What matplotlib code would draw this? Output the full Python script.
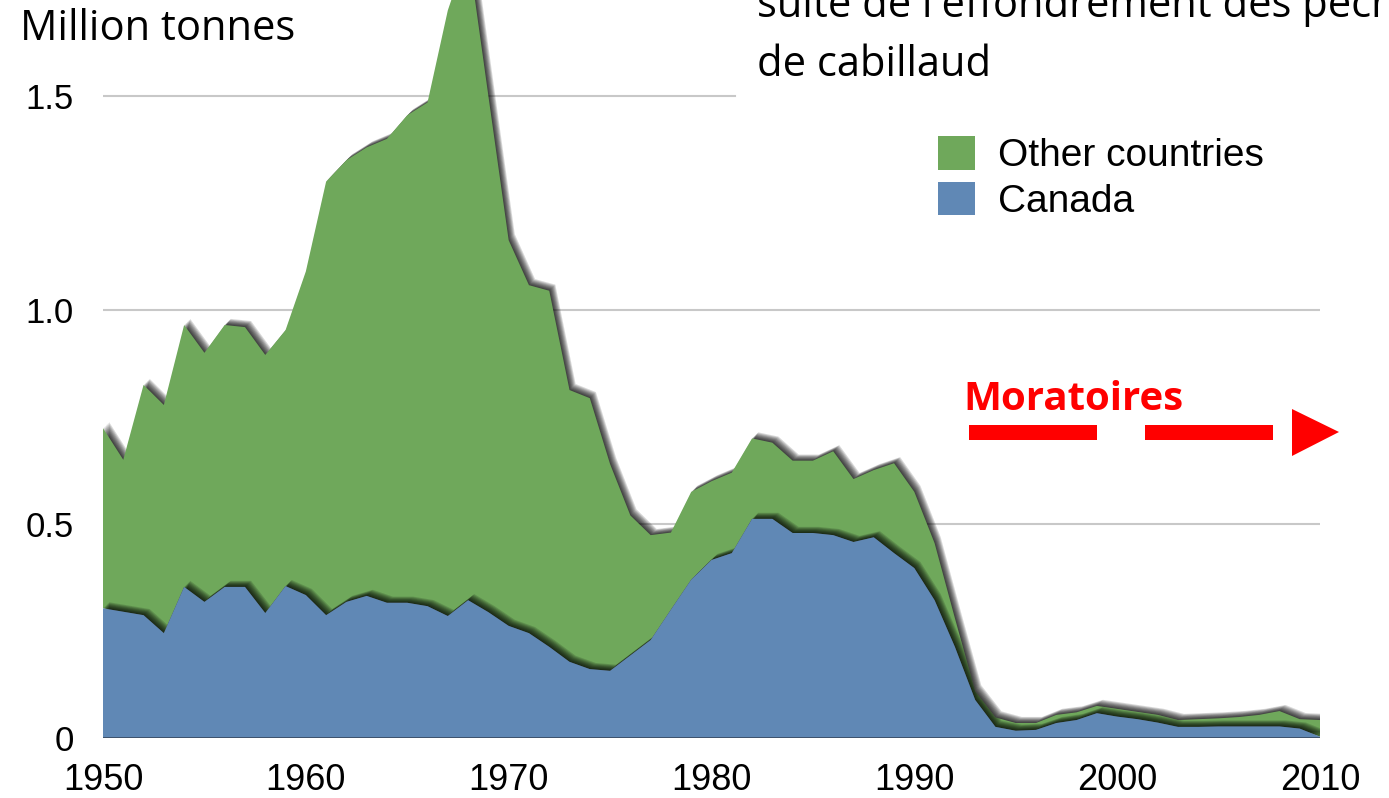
import matplotlib
matplotlib.use("Agg")
import matplotlib.pyplot as plt
import matplotlib.patheffects as pe
from matplotlib.patches import Patch, Rectangle, Polygon

# Northwest Atlantic cod catch, million tonnes
years = list(range(1950, 2011))
canada = [
    0.303, 0.295, 0.287, 0.245, 0.353, 0.318, 0.353, 0.353, 0.292, 0.355,
    0.334, 0.287, 0.318, 0.332, 0.316, 0.316, 0.308, 0.285, 0.322, 0.294,
    0.262, 0.245, 0.213, 0.178, 0.161, 0.157, 0.193, 0.229, 0.300, 0.370,
    0.416, 0.432, 0.512, 0.512, 0.479, 0.479, 0.474, 0.458, 0.469, 0.432,
    0.397, 0.322, 0.213, 0.089, 0.026, 0.017, 0.019, 0.035, 0.042, 0.058,
    0.050, 0.044, 0.036, 0.026, 0.026, 0.027, 0.027, 0.027, 0.027, 0.022,
    0.003,
]
other_countries = [
    0.421, 0.355, 0.538, 0.533, 0.612, 0.582, 0.612, 0.607, 0.603, 0.598,
    0.756, 1.013, 1.032, 1.048, 1.084, 1.139, 1.177, 1.415, 1.518, 1.206,
    0.901, 0.813, 0.832, 0.635, 0.633, 0.483, 0.327, 0.245, 0.180, 0.205,
    0.184, 0.188, 0.188, 0.178, 0.169, 0.169, 0.196, 0.147, 0.157, 0.210,
    0.178, 0.133, 0.067, 0.020, 0.022, 0.018, 0.016, 0.019, 0.018, 0.017,
    0.018, 0.017, 0.018, 0.016, 0.018, 0.019, 0.022, 0.027, 0.036, 0.022,
    0.039,
]
series_labels = ["Other countries", "Canada"]
x_ticks = [1950, 1960, 1970, 1980, 1990, 2000, 2010]
y_ticks = [0, 0.5, 1.0, 1.5]
y_tick_labels = ["0", "0.5", "1.0", "1.5"]

GREEN = "#6fa85b"
BLUE = "#6088b5"
RED = "#ff0000"

W, H = 1389, 798


def fx(px):
    return px / W


def fy(py):
    return 1 - py / H


fig = plt.figure(figsize=(W / 100, H / 100), dpi=100)
fig.patch.set_facecolor("white")

ax = fig.add_axes([fx(103), fy(738), fx(1320) - fx(103), fy(0) - fy(738)])
ax.set_xlim(1950, 2010)
ax.set_ylim(0, 738 / 428)
for s in ax.spines.values():
    s.set_visible(False)

# soft drop shadow built from a few stacked offset copies
shadow = [pe.SimplePatchShadow(offset=(0.55 * d, 0.55 * d), shadow_rgbFace="black", alpha=0.15)
          for d in range(1, 9)] + [pe.Normal()]

total = [c + o for c, o in zip(canada, other_countries)]
green = ax.fill_between(years, canada, total, color=GREEN, lw=0, zorder=2)
green.set_path_effects(shadow)
blue = ax.fill_between(years, 0, canada, color=BLUE, lw=0, zorder=3)
blue.set_path_effects(shadow)

# gridlines
ax.axhline(0.5, color="#c8c8c8", lw=1.5, zorder=1)
ax.axhline(1.0, color="#c8c8c8", lw=1.5, zorder=1)
ax.axhline(1.5, xmin=0, xmax=(735 - 103) / 1217, color="#c8c8c8", lw=1.5, zorder=1)
ax.axhline(0, color="#3e526c", lw=1.4, zorder=4)

ax.set_xticks(x_ticks)
ax.set_xticklabels([str(t) for t in x_ticks], fontsize=26, family="Liberation Sans")
ax.set_yticks(y_ticks)
ax.set_yticklabels(y_tick_labels, fontsize=25, family="Liberation Sans")
ax.tick_params(axis="both", length=0)
ax.tick_params(axis="x", pad=18)
ax.tick_params(axis="y", pad=21)

# legend
handles = [Patch(facecolor=GREEN, edgecolor="none"), Patch(facecolor=BLUE, edgecolor="none")]
leg = ax.legend(handles, series_labels, loc="upper left",
                bbox_to_anchor=(fx(938), fy(136)), bbox_transform=fig.transFigure,
                frameon=False, prop={"family": "Liberation Sans", "size": 28},
                handlelength=0.95, handleheight=0.95, handletextpad=0.6,
                labelspacing=0.2, borderpad=0, borderaxespad=0)

# annotations
fig.text(fx(20), fy(40), "Million tonnes", family="Open Sans", fontsize=30,
         ha="left", va="baseline")
fig.text(fx(757), fy(17), "suite de l'effondrement des pêcheries", family="Open Sans",
         fontsize=30, ha="left", va="baseline")
fig.text(fx(757), fy(76), "de cabillaud", family="Open Sans", fontsize=30,
         ha="left", va="baseline")
fig.text(fx(963), fy(410), "Moratoires", family="Open Sans", fontweight="bold",
         fontsize=29, color=RED, ha="left", va="baseline")

for x0, x1 in [(969, 1097), (1145, 1273)]:
    fig.patches.append(Rectangle((fx(x0), fy(440)), fx(x1) - fx(x0), fy(425) - fy(440),
                                 transform=fig.transFigure, facecolor=RED, edgecolor="none"))
fig.patches.append(Polygon([(fx(1292), fy(409)), (fx(1292), fy(456)), (fx(1339), fy(432))],
                           closed=True, transform=fig.transFigure, facecolor=RED, edgecolor="none"))

fig.savefig("out.png", dpi=100)
